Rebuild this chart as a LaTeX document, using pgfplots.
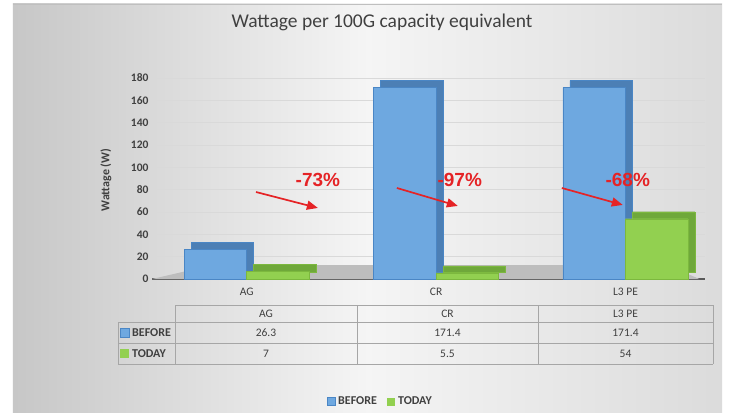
\documentclass[border=0pt]{standalone}
\usepackage{pgfplots}
\pgfplotsset{compat=1.18}
\usepackage{fontspec}
\setmainfont{Carlito}
\newfontfamily\arialfont{Liberation Sans}
\usetikzlibrary{arrows.meta}

\definecolor{barblue}{HTML}{6EA8E0}
\definecolor{edgeblue}{HTML}{4A86C5}
\definecolor{darkblue}{HTML}{4C7FB5}
\definecolor{bargreen}{HTML}{92D050}
\definecolor{edgegreen}{HTML}{7CB83E}
\definecolor{darkgreen}{HTML}{6FA83A}
\definecolor{txtgray}{HTML}{404040}
\definecolor{gridgray}{HTML}{D9D9D9}
\definecolor{floorgray}{HTML}{BDBDBD}
\definecolor{arrowred}{HTML}{E52326}

\begin{document}
\begin{tikzpicture}
% page and chart background
\fill[white] (-152bp,-136bp) rectangle (583bp,279bp);
\shade[left color=black!22, right color=black!14, middle color=black!4]
  (-139bp,-133bp) rectangle (570bp,275bp);
\draw[black!25] (-139bp,275bp) -- (570bp,275bp);

\node[txtgray, font=\fontsize{19.5bp}{22bp}\selectfont] at (230bp,257bp)
  {Wattage per 100G capacity equivalent};

\begin{axis}[
  at={(0,0)}, anchor=south west,
  scale only axis,
  width=553bp, height=201bp,
  xmin=-0.5, xmax=2.42,
  ymin=0, ymax=180,
  ytick distance=20,
  xtick={0,1,2},
  xticklabels={AG,CR,L3 PE},
  major tick length=0pt,
  ymajorgrids,
  grid style={gridgray, line width=0.6pt},
  axis x line=bottom,
  axis y line=left,
  x axis line style={-, draw=black!65, line width=1.6pt},
  y axis line style={draw=none},
  /pgf/number format/assume math mode=true,
  yticklabel style={txtgray, font=\fontsize{11.5bp}{13bp}\selectfont\bfseries},
  xticklabel style={txtgray, font=\fontsize{11.5bp}{13bp}\selectfont, yshift=-6bp},
  clip=false,
]
% floor
\fill[floorgray] (axis cs:-0.5,0) -- (axis cs:2.39,0) -- (axis cs:2.22,12.5) -- (axis cs:-0.18,12.5) -- cycle;

% back faces (depth)
\addplot[ybar, bar width=0.33, bar shift=-0.165, fill=darkblue, draw=edgeblue, xshift=7bp, yshift=7bp]
  coordinates {(0,26.3) (1,171.4) (2,171.4)};
\addplot[ybar, bar width=0.33, bar shift=0.165, fill=darkgreen, draw=edgegreen, xshift=7bp, yshift=7bp]
  coordinates {(0,7) (1,5.5) (2,54)};
% front faces
\addplot[ybar, bar width=0.33, bar shift=-0.165, fill=barblue, draw=edgeblue]
  coordinates {(0,26.3) (1,171.4) (2,171.4)};
\addplot[ybar, bar width=0.33, bar shift=0.165, fill=bargreen, draw=edgegreen]
  coordinates {(0,7) (1,5.5) (2,54)};

% change annotations
\draw[arrowred, line width=1.7bp, -{Triangle[length=11bp,width=9bp]}] (axis cs:0.049,77.9) -- (axis cs:0.376,63.6);
\draw[arrowred, line width=1.7bp, -{Triangle[length=11bp,width=9bp]}] (axis cs:0.793,81.5) -- (axis cs:1.115,65.4);
\draw[arrowred, line width=1.7bp, -{Triangle[length=11bp,width=9bp]}] (axis cs:1.664,81.5) -- (axis cs:1.986,66.3);
\node[arrowred, font=\arialfont\bfseries\fontsize{19bp}{21bp}\selectfont] at (axis cs:0.376,88.7) {-73\%};
\node[arrowred, font=\arialfont\bfseries\fontsize{19bp}{21bp}\selectfont] at (axis cs:1.125,88.7) {-97\%};
\node[arrowred, font=\arialfont\bfseries\fontsize{19bp}{21bp}\selectfont] at (axis cs:2.012,88.7) {-68\%};
\end{axis}

% y axis title
\node[txtgray, rotate=90, font=\fontsize{12bp}{14bp}\selectfont\bfseries] at (-46bp,99bp) {Wattage (W)};

% data table
\begin{scope}[black!35, line width=0.7pt]
\draw (23bp,-26bp) -- (561bp,-26bp);
\draw (-34bp,-43bp) -- (561bp,-43bp);
\draw (-34bp,-64bp) -- (561bp,-64bp);
\draw (-34bp,-85bp) -- (561bp,-85bp);
\draw (-34bp,-43bp) -- (-34bp,-85bp);
\draw (23bp,-26bp) -- (23bp,-85bp);
\draw (205bp,-26bp) -- (205bp,-85bp);
\draw (386bp,-26bp) -- (386bp,-85bp);
\draw (561bp,-26bp) -- (561bp,-85bp);
\end{scope}
\begin{scope}[every node/.style={txtgray, font=\fontsize{11.5bp}{13bp}\selectfont}]
\node at (114bp,-34.5bp) {AG};
\node at (295.5bp,-34.5bp) {CR};
\node at (473.5bp,-34.5bp) {L3 PE};
\node at (114bp,-53.5bp) {26.3};
\node at (295.5bp,-53.5bp) {171.4};
\node at (473.5bp,-53.5bp) {171.4};
\node at (114bp,-74.5bp) {7};
\node at (295.5bp,-74.5bp) {5.5};
\node at (473.5bp,-74.5bp) {54};
\end{scope}
\begin{scope}[every node/.style={txtgray, font=\fontsize{12bp}{14bp}\selectfont\bfseries, anchor=west, inner sep=0pt}]
\node at (-20bp,-53.5bp) {BEFORE};
\node at (-20bp,-74.5bp) {TODAY};
\node at (186bp,-122bp) {BEFORE};
\node at (246bp,-122bp) {TODAY};
\end{scope}
\fill[barblue, draw=edgeblue] (-32bp,-58bp) rectangle (-23bp,-49bp);
\fill[bargreen] (-32bp,-79bp) rectangle (-23bp,-70bp);
\fill[barblue, draw=edgeblue] (175bp,-126.5bp) rectangle (183bp,-118.5bp);
\fill[bargreen] (235bp,-126.5bp) rectangle (243bp,-118.5bp);

\path[use as bounding box] (-152bp,-136bp) rectangle (583bp,279bp);
\end{tikzpicture}
\end{document}
